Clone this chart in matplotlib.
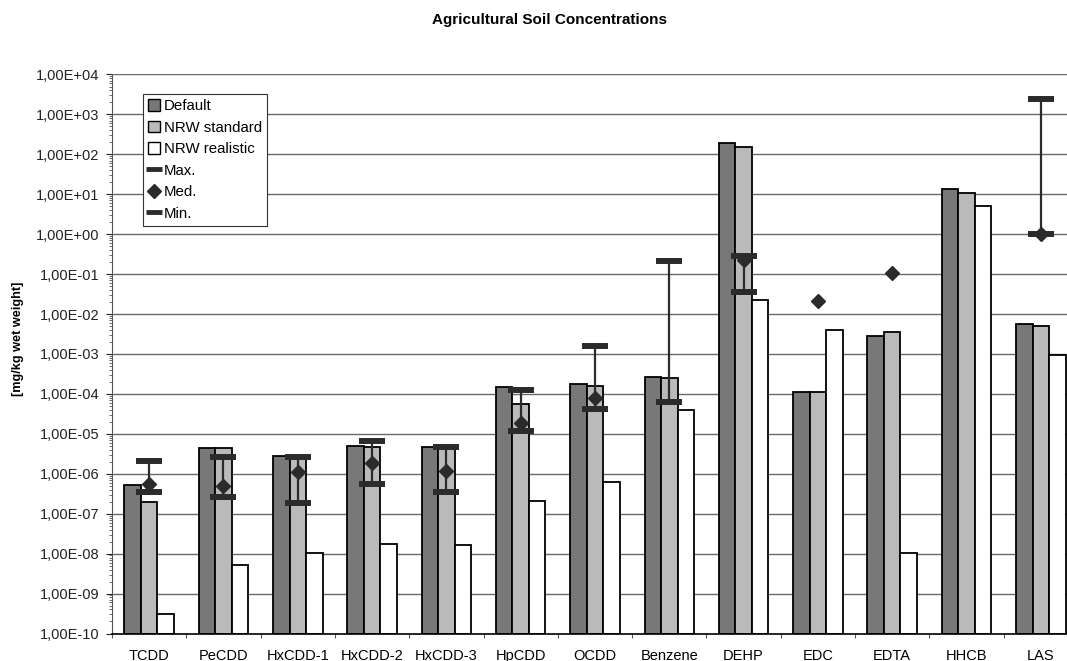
#!/usr/bin/python

#################################
# preparation
#################################
import numpy as np
import matplotlib
matplotlib.use("Agg")
from matplotlib import pyplot as plt
from matplotlib.patches import Patch
from matplotlib.lines import Line2D
from matplotlib.ticker import FixedLocator, FuncFormatter, NullFormatter

plt.rcParams['font.family'] = ['Liberation Sans', 'DejaVu Sans']

#################################
# data
#################################
substances = ["TCDD", "PeCDD", "HxCDD-1", "HxCDD-2", "HxCDD-3", "HpCDD", "OCDD",
              "Benzene", "DEHP", "EDC", "EDTA", "HHCB", "LAS"]

default   = [5.1e-7, 4.5e-6, 2.8e-6, 4.9e-6, 4.7e-6, 1.45e-4, 1.8e-4,
             2.6e-4, 188, 1.12e-4, 2.8e-3, 13.8, 5.8e-3]
nrw_std   = [2.0e-7, 4.3e-6, 2.6e-6, 4.6e-6, 4.7e-6, 5.5e-5, 1.6e-4,
             2.5e-4, 155, 1.1e-4, 3.5e-3, 10.7, 5.0e-3]
nrw_real  = [3.0e-10, 5.1e-9, 1.05e-8, 1.75e-8, 1.6e-8, 2.1e-7, 6.2e-7,
             4.0e-5, 0.022, 4.0e-3, 1.05e-8, 5.2, 9.4e-4]

# measured values (nan = not given)
meas_max  = [2.1e-6, 2.6e-6, 2.6e-6, 6.8e-6, 4.8e-6, 1.27e-4, 1.6e-3,
             0.21, 0.29, np.nan, np.nan, np.nan, 2450]
meas_med  = [5.4e-7, 4.9e-7, 1.1e-6, 1.85e-6, 1.2e-6, 1.9e-5, 8.1e-5,
             np.nan, 0.22, 0.021, 0.107, np.nan, 1.0]
meas_min  = [3.5e-7, 2.6e-7, 1.85e-7, 5.4e-7, 3.5e-7, 1.15e-5, 4.2e-5,
             6.2e-5, 0.036, np.nan, np.nan, np.nan, 1.0]

#################################
# parameters
#################################
ymin = 1e-10
ymax = 1e4
barw = 0.222
capw = 0.175

col_def = "#787878"
col_std = "#bababa"
col_real = "#ffffff"
col_mark = "#2b2b2b"

#################################
# Plot data
#################################
fig = plt.figure(figsize=(10.67, 6.61), dpi=100)
ax = fig.add_axes([0.1050, 0.0416, 0.9053, 0.8457])

x = np.arange(len(substances))
decades = np.arange(-10, 5)

ax.set_yscale("log")
ax.set_ylim(ymin, ymax)
ax.set_xlim(-0.5, len(substances) - 0.5)

# horizontal grid lines at every decade
for k in decades[1:]:
    ax.axhline(10.0 ** k, color="#6a6a6a", linewidth=1.0, zorder=0)

h = [np.array(default) - ymin, np.array(nrw_std) - ymin, np.array(nrw_real) - ymin]
ax.bar(x - barw, h[0], barw, bottom=ymin, color=col_def, edgecolor="black", linewidth=1.3, zorder=2)
ax.bar(x, h[1], barw, bottom=ymin, color=col_std, edgecolor="black", linewidth=1.3, zorder=2)
ax.bar(x + barw, h[2], barw, bottom=ymin, color=col_real, edgecolor="black", linewidth=1.3, zorder=2)

# range lines and caps on the middle bar
mx = np.array(meas_max)
mn = np.array(meas_min)
md = np.array(meas_med)
ok = ~np.isnan(mx) & ~np.isnan(mn)
ax.vlines(x[ok], mn[ok], mx[ok], color=col_mark, linewidth=1.6, zorder=3)
ax.hlines(mx, x - capw, x + capw, color=col_mark, linewidth=4.3, zorder=4)
ax.plot(x, md, linestyle="none", marker="D", markersize=7.5, color=col_mark, zorder=5)
ax.hlines(mn, x - capw, x + capw, color=col_mark, linewidth=4.3, zorder=6)

#################################
# axes decoration
#################################
def excel_sci(v, pos):
    e = int(np.round(np.log10(v)))
    return "1,00E%+03d" % e

minor_pos = [m * 10.0 ** k for k in decades[:-1] for m in range(2, 10)]
ax.yaxis.set_major_locator(FixedLocator(10.0 ** decades))
ax.yaxis.set_major_formatter(FuncFormatter(excel_sci))
ax.yaxis.set_minor_locator(FixedLocator(minor_pos))
ax.yaxis.set_minor_formatter(NullFormatter())
ax.tick_params(axis="y", which="major", length=4, width=0.8, pad=5, labelsize=10.5, colors="#222222")
ax.tick_params(axis="y", which="minor", length=2, width=0.6, color="#555555")

# category boundaries as ticks, names in the middle
ax.set_xticks(np.arange(len(substances) + 1) - 0.5)
ax.set_xticklabels([])
ax.set_xticks(x, minor=True)
ax.set_xticklabels(substances, minor=True, fontsize=10.5)
ax.tick_params(axis="x", which="major", length=3, width=0.8, color="#555555")
ax.tick_params(axis="x", which="minor", length=0, pad=11)

ax.spines["top"].set_visible(False)
ax.spines["right"].set_visible(False)
ax.spines["left"].set_color("#555555")
ax.spines["bottom"].set_linewidth(1.2)

fig.text(550 / 1067, 1 - 20 / 661, "Agricultural Soil Concentrations",
         ha="center", va="center", fontsize=11, fontweight="bold")
fig.text(18 / 1067, 1 - 339 / 661, "[mg/kg wet weight]", rotation=90,
         ha="center", va="center", fontsize=9.2, fontweight="bold")

handles = [
    Patch(facecolor=col_def, edgecolor="black", linewidth=1.0),
    Patch(facecolor=col_std, edgecolor="black", linewidth=1.0),
    Patch(facecolor=col_real, edgecolor="black", linewidth=1.0),
    Line2D([], [], linestyle="none", marker="_", markersize=11, markeredgewidth=3.5, color=col_mark),
    Line2D([], [], linestyle="none", marker="D", markersize=7, color=col_mark),
    Line2D([], [], linestyle="none", marker="_", markersize=11, markeredgewidth=3.5, color=col_mark),
]
labels = ["Default", "NRW standard", "NRW realistic", "Max.", "Med.", "Min."]
leg = ax.legend(handles, labels, loc="upper left", bbox_to_anchor=(0.032, 0.965),
                borderaxespad=0, fontsize=10.8, handlelength=0.8, handleheight=0.8,
                handletextpad=0.25, labelspacing=0.5, borderpad=0.35,
                fancybox=False, framealpha=1, edgecolor="#333333")
leg.get_frame().set_linewidth(0.8)
leg.set_zorder(10)

fig.savefig("out.png", dpi=100)
